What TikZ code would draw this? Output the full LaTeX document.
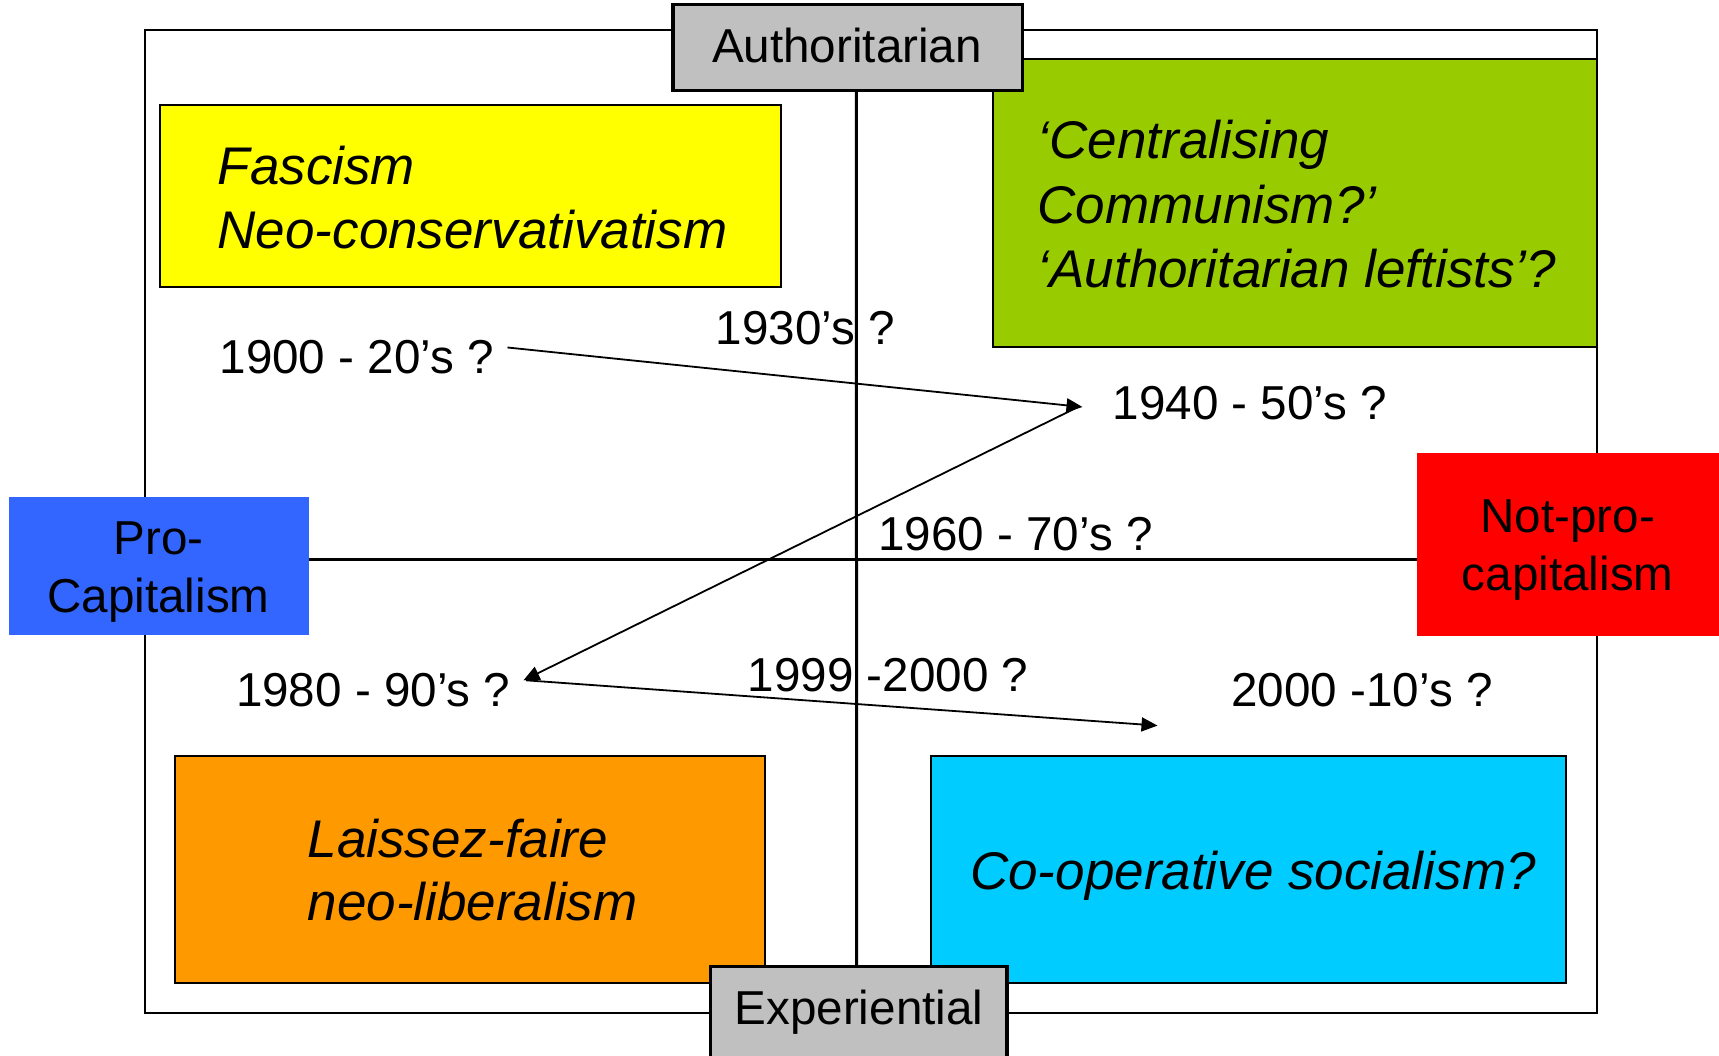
\documentclass[tikz,border=0pt]{standalone}
\usepackage{fontspec}
\setmainfont{Liberation Sans}
\usetikzlibrary{arrows.meta}
\definecolor{cyellow}{HTML}{FFFF00}
\definecolor{cgreen}{HTML}{99CC00}
\definecolor{corange}{HTML}{FF9900}
\definecolor{ccyan}{HTML}{00CCFF}
\definecolor{cblue}{HTML}{3366FF}
\definecolor{cred}{HTML}{FF0000}
\definecolor{cgray}{HTML}{C0C0C0}
\begin{document}
\begin{tikzpicture}[x=1pt,y=-1pt,
  box/.style={draw=black, line width=2pt, inner sep=0pt, minimum width=#1},
  axisbox/.style={draw=black, line width=3.5pt, fill=cgray, inner sep=0pt},
  sidebox/.style={draw=none, inner sep=0pt},
  lab/.style={font=\fontsize{47.6}{56}\selectfont, inner sep=0pt, anchor=base west},
  clab/.style={font=\fontsize{47.6}{56}\selectfont, inner sep=0pt, anchor=base},
  ital/.style={font=\fontsize{53}{64}\selectfont\itshape, inner sep=0pt, anchor=base west},
  axisline/.style={line width=3pt},
  arr/.style={line width=1.8pt, -{Triangle[length=16pt,width=14pt]}}
]
\clip (0,0) rectangle (1719,1056);
\fill[white] (0,0) rectangle (1719,1056);

% outer frame
\node[draw=black, line width=2pt, inner sep=0pt, minimum width=1451.5pt, minimum height=982.5pt] (frame) at (870.75,521.25) {};

% quadrant boxes
\node[box=620.6pt, fill=cyellow, minimum height=182.3pt] (yellow) at (470.3,196.15) {};
\node[box=603.3pt, fill=cgreen, minimum height=288pt] (green) at (1294.85,203.5) {};
\node[box=590pt, fill=corange, minimum height=226.5pt] (orange) at (470.2,869.25) {};
\node[box=634.7pt, fill=ccyan, minimum height=226.5pt] (cyan) at (1248.25,869.25) {};

% axis boxes
\node[axisbox, minimum width=349.5pt, minimum height=86pt] (auth) at (847.75,47.5) {};
\node[axisbox, minimum width=296.6pt, minimum height=103.5pt] (exper) at (858.7,1018.25) {};
\node[sidebox, fill=cblue, minimum width=300.2pt, minimum height=138pt] (procap) at (158.9,566) {};
\node[sidebox, fill=cred, minimum width=307.7pt, minimum height=182.5pt] (notpro) at (1571.15,544.25) {};

% axes
\coordinate (hax) at (0,559);
\draw[axisline] ([xshift=8.5pt]auth.south) -- ([xshift=-2pt]exper.north);
\draw[axisline] (procap.east |- hax) -- (notpro.west |- hax);

% axis labels
\node[clab] (authT) at (847,62.5) {Authoritarian};
\node[clab] (experT) at (859,1024.8) {Experiential};
\node[clab] (procapT1) at (158.5,554) {Pro-};
\node[clab] (procapT2) at (158.5,612.2) {Capitalism};
\node[clab] (notproT1) at (1567.7,532.4) {Not-pro-};
\node[clab] (notproT2) at (1567.7,590.4) {capitalism};

% quadrant texts
\node[ital] (fascT1) at (217.5,184.2) {Fascism};
\node[ital] (fascT2) at (217.5,248.5) {Neo-conservativatism};
\node[ital] (commT1) at (1037.5,158.9) {‘Centralising};
\node[ital] (commT2) at (1037.5,223.1) {Communism?’};
\node[ital] (commT3) at (1037.5,287.4) {‘Authoritarian leftists’?};
\node[ital] (laisT1) at (307.5,857) {Laissez-faire};
\node[ital] (laisT2) at (307.5,920.8) {neo-liberalism};
\node[ital, anchor=base] (coopT) at (1253,889) {Co-operative socialism?};

% period labels
\node[lab] (p1900) at (219.4,373.8) {1900 - 20’s ?};
\node[lab] (p1930) at (715.5,344.7) {1930’s ?};
\node[lab] (p1940) at (1112.5,419.5) {1940 - 50’s ?};
\node[lab] (p1960) at (878,550.7) {1960 - 70’s ?};
\node[lab] (p1980) at (235.8,706.3) {1980 - 90’s ?};
\node[lab] (p1999) at (747.5,691) {1999 -2000 ?};
\node[lab] (p2000) at (1231.3,706) {2000 -10’s ?};

% arrows
\coordinate (a1) at (507.5,347.5);
\coordinate (a2) at (1082.5,407);
\coordinate (a2s) at (1079,406.5);
\coordinate (a3) at (523.5,680.3);
\coordinate (a3s) at (526,680.3);
\coordinate (a4) at (1157.5,725.6);
\draw[arr] (a1) -- (a2);
\draw[arr] (a2s) -- (a3);
\draw[arr] (a3s) -- (a4);
\end{tikzpicture}
\end{document}
